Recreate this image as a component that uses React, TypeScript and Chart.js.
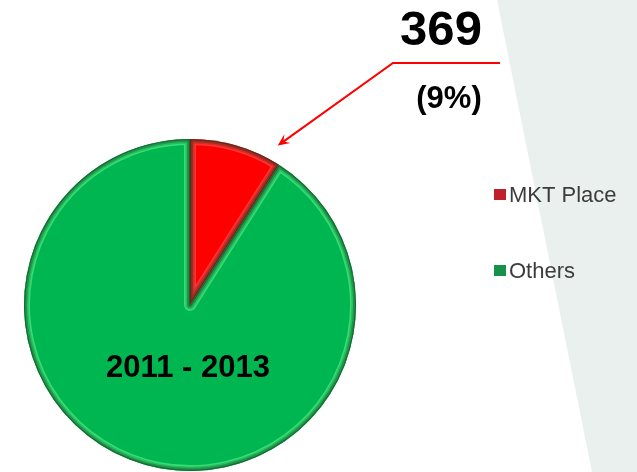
import React, { useEffect, useRef } from "react";
import { Chart, registerables } from "chart.js";

Chart.register(...registerables);

const labels = ["MKT Place", "Others"];
const values = [369, 3731];
const sliceColors = ["#ff0000", "#00b650"];
const highlightColors = ["rgba(255,90,90,0.55)", "rgba(70,235,130,0.75)"];
const legendColors = ["#c21f2c", "#15914a"];
const valueLabel = "369";
const periodLabel = "2011 - 2013";

const W = 637;
const H = 472;

const pct = Math.round((values[0] / values.reduce((a, b) => a + b, 0)) * 100);
const pctLabel = `(${pct}%)`;

const decorPlugin = {
  id: "decor",
  beforeDraw(chart: any) {
    const ctx = chart.ctx;
    ctx.save();
    ctx.fillStyle = "#ffffff";
    ctx.fillRect(0, 0, W, H);
    ctx.fillStyle = "#e9f0ee";
    ctx.beginPath();
    ctx.moveTo(497, 0);
    ctx.lineTo(W, 0);
    ctx.lineTo(W, H);
    ctx.lineTo(592, H);
    ctx.closePath();
    ctx.fill();
    ctx.restore();
  },
  afterDatasetsDraw(chart: any) {
    const ctx = chart.ctx;
    const meta = chart.getDatasetMeta(0);
    // bevel shading for each slice
    meta.data.forEach((arc: any, i: number) => {
      const { x, y, startAngle, endAngle, outerRadius } = arc.getProps(
        ["x", "y", "startAngle", "endAngle", "outerRadius"],
        true
      );
      const path = () => {
        ctx.beginPath();
        ctx.moveTo(x, y);
        ctx.arc(x, y, outerRadius, startAngle, endAngle);
        ctx.closePath();
      };
      ctx.save();
      path();
      ctx.clip();
      ctx.lineJoin = "round";
      path();
      ctx.strokeStyle = highlightColors[i];
      ctx.lineWidth = 12;
      ctx.stroke();
      path();
      ctx.strokeStyle = "rgba(0,40,10,0.18)";
      ctx.lineWidth = 9;
      ctx.stroke();
      path();
      ctx.strokeStyle = "rgba(0,40,10,0.25)";
      ctx.lineWidth = 6;
      ctx.stroke();
      path();
      ctx.strokeStyle = "rgba(0,30,5,0.35)";
      ctx.lineWidth = 2.5;
      ctx.stroke();
      ctx.restore();
    });

    // arrow annotation to first slice
    const a0 = meta.data[0];
    const p = a0.getProps(["x", "y", "startAngle", "endAngle", "outerRadius"], true);
    const ang = p.startAngle + 0.89 * (p.endAngle - p.startAngle);
    const rr = p.outerRadius + 16;
    const tipX = p.x + rr * Math.cos(ang);
    const tipY = p.y + rr * Math.sin(ang);
    const elbowX = 393;
    const elbowY = 63;
    ctx.save();
    ctx.strokeStyle = "#ff0000";
    ctx.fillStyle = "#ff0000";
    ctx.lineWidth = 2;
    ctx.beginPath();
    ctx.moveTo(500, elbowY);
    ctx.lineTo(elbowX, elbowY);
    const dir = Math.atan2(tipY - elbowY, tipX - elbowX);
    const backX = tipX - 6 * Math.cos(dir);
    const backY = tipY - 6 * Math.sin(dir);
    ctx.lineTo(backX, backY);
    ctx.stroke();
    const len = 13;
    const spread = 0.42;
    ctx.beginPath();
    ctx.moveTo(tipX, tipY);
    ctx.lineTo(tipX - len * Math.cos(dir - spread), tipY - len * Math.sin(dir - spread));
    ctx.lineTo(tipX - 7 * Math.cos(dir), tipY - 7 * Math.sin(dir));
    ctx.lineTo(tipX - len * Math.cos(dir + spread), tipY - len * Math.sin(dir + spread));
    ctx.closePath();
    ctx.fill();
    ctx.restore();

    // texts
    ctx.save();
    ctx.fillStyle = "#000000";
    ctx.textAlign = "center";
    ctx.textBaseline = "alphabetic";
    ctx.font = "bold 49px 'Liberation Sans', Arial, sans-serif";
    ctx.fillText(valueLabel, 441, 45);
    ctx.font = "bold 31px 'Liberation Sans', Arial, sans-serif";
    ctx.fillText(pctLabel, 449, 108);
    ctx.font = "bold 31px 'Liberation Sans', Arial, sans-serif";
    ctx.fillText(periodLabel, p.x - 2, 377);
    ctx.restore();

    // legend
    ctx.save();
    ctx.font = "22px 'Liberation Sans', Arial, sans-serif";
    ctx.textAlign = "left";
    ctx.textBaseline = "alphabetic";
    const rows = [202, 278];
    chart.data.labels.forEach((lab: string, i: number) => {
      const by = rows[i];
      ctx.fillStyle = legendColors[i];
      ctx.fillRect(494, by - 13, 12, 11);
      ctx.fillStyle = "#3c3c3c";
      ctx.fillText(lab, 509, by);
    });
    ctx.restore();
  },
};

export default function App() {
  const ref = useRef<HTMLCanvasElement | null>(null);
  useEffect(() => {
    if (!ref.current) return;
    const chart = new Chart(ref.current, {
      type: "pie",
      data: {
        labels,
        datasets: [
          {
            data: values,
            backgroundColor: sliceColors,
            borderWidth: 0,
            hoverOffset: 0,
            offset: 0,
          },
        ],
      },
      options: {
        responsive: false,
        animation: false,
        devicePixelRatio: 1,
        events: [],
        layout: { padding: { left: 24, right: 281, top: 139, bottom: 1 } },
        plugins: {
          legend: { display: false },
          tooltip: { enabled: false },
        },
      },
      plugins: [decorPlugin],
    });
    return () => chart.destroy();
  }, []);
  return (
    <div style={{ position: "absolute", left: 0, top: 0, width: W, height: H }}>
      <canvas ref={ref} width={W} height={H} style={{ display: "block" }} />
    </div>
  );
}
